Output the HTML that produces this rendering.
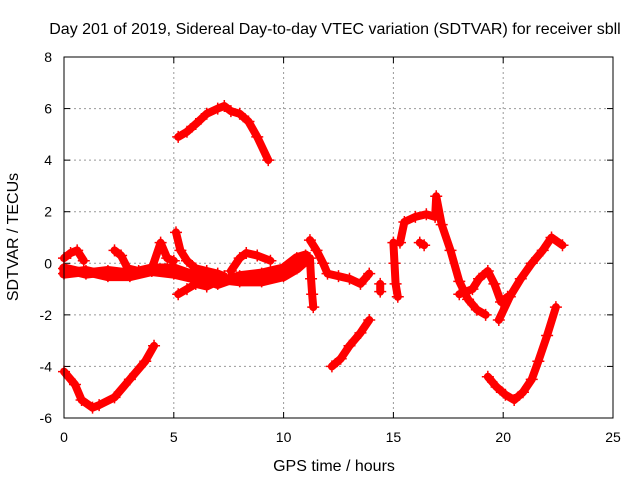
<!DOCTYPE html>
<html><head><meta charset="utf-8"><style>
body{margin:0;background:#fff}
svg{display:block;font-family:"Liberation Sans",sans-serif;font-size:14px}
.big{font-size:16px}
</style></head><body>
<svg id="chart" width="640" height="480">
<text class="big" x="335" y="34" text-anchor="middle">Day 201 of 2019, Sidereal Day-to-day VTEC variation (SDTVAR) for receiver sbll</text>
<text class="big" x="334" y="471" text-anchor="middle">GPS time / hours</text>
<text class="big" x="18" y="237" text-anchor="middle" transform="rotate(-90 18 237)">SDTVAR / TECUs</text>
<g id="grid"></g><g id="ticks"></g><g id="marks"></g>
<rect x="64" y="57" width="549" height="361" fill="none" stroke="#000" stroke-width="1"/>
</svg>
<script>
const xTicks=[0,5,10,15,20,25];
const yTicks=[-6,-4,-2,0,2,4,6,8];
const arcA=[[0,-4.2],[0.5,-4.7],[0.8,-5.3],[1.3,-5.6],[1.6,-5.5],[2.3,-5.2],[3.0,-4.5],[3.7,-3.8],[4.1,-3.2]];
const arcB=[[5.2,4.9],[5.6,5.1],[6.0,5.4],[6.5,5.8],[7.0,6.0],[7.3,6.1],[7.6,5.9],[8.0,5.8],[8.4,5.5],[8.8,4.9],[9.3,4.0]];
const arcBase=[[0,-0.4],[1,-0.3],[2,-0.5],[3,-0.5],[4,-0.3],[5,-0.4],[6,-0.6],[7,-0.6],[8,-0.7],[9,-0.7],[10,-0.5],[10.6,-0.2],[11,0.1]];
const arcBase2=[[0,-0.2],[1,-0.4],[2,-0.3],[3,-0.4],[4,-0.2],[5,-0.2],[6,-0.5],[7,-0.8],[8,-0.5],[9,-0.4],[10,-0.2],[10.6,0.2],[11,0.3]];
const arcC=[[0,0.2],[0.3,0.4],[0.6,0.5],[0.9,0.1]];
const arcD=[[2.3,0.5],[2.6,0.3],[2.9,-0.2],[3.4,-0.3],[4,-0.2],[4.4,0.8],[4.7,0.2],[5.0,0.1]];
const arcE=[[5.1,1.2],[5.3,0.5],[5.6,0.1],[6.0,-0.2],[6.5,-0.3],[7.0,-0.4],[7.3,-0.5]];
const arcF=[[5.2,-1.2],[5.6,-1.0],[6.0,-0.8],[6.5,-0.9],[7.0,-0.7],[7.5,-0.6]];
const arcG=[[7.6,-0.3],[8.0,0.2],[8.3,0.4],[8.8,0.3],[9.4,0.1]];
const arcH=[[11.2,0.9],[11.5,0.5],[11.8,0],[12,-0.4],[12.5,-0.5],[13,-0.6],[13.5,-0.8],[13.9,-0.4]];
const arcI=[[11.2,0.2],[11.25,-0.6],[11.3,-1.2],[11.35,-1.7]];
const arcJ=[[12.2,-4.0],[12.6,-3.7],[13,-3.2],[13.5,-2.7],[13.9,-2.2]];
const arcK=[[14.4,-0.8],[14.4,-1.1]];
const arcL=[[15.0,0.8],[15.05,0],[15.1,-0.8],[15.2,-1.3]];
const arcM=[[15.3,0.8],[15.5,1.6],[16,1.8],[16.5,1.9],[16.9,1.8],[16.95,2.6],[17.2,1.5],[17.6,0.5],[18,-0.7],[18.4,-1.4],[18.8,-1.8],[19.2,-2.0]];
const arcN=[[16.2,0.8],[16.4,0.7]];
const arcO=[[18.0,-1.2],[18.6,-1.0],[18.9,-0.6],[19.3,-0.3],[19.6,-0.8],[19.9,-1.5],[20.2,-1.3]];
const arcP=[[19.8,-2.2],[20.3,-1.3],[20.8,-0.6],[21.3,0],[21.8,0.5],[22.2,1.0],[22.7,0.7]];
const arcQ=[[19.3,-4.4],[19.7,-4.8],[20.1,-5.1],[20.5,-5.3],[20.9,-5.0],[21.3,-4.5],[21.6,-3.8],[22,-2.8],[22.4,-1.7]];
const arcs=[arcA,arcB,arcBase,arcBase2,arcC,arcD,arcE,arcF,arcG,arcH,arcI,arcJ,arcK,arcL,arcM,arcN,arcO,arcP,arcQ];
const X0=64,X1=613,Y0=418,Y1=57;
const sx=t=>X0+(t-0)/(25-0)*(X1-X0);
const sy=v=>Y0-(v+6)/(14)*(Y0-Y1);
const NS="http://www.w3.org/2000/svg";
const mk=(tag,attrs,parent)=>{const e=document.createElementNS(NS,tag);for(const k in attrs)e.setAttribute(k,attrs[k]);parent.appendChild(e);return e;};
const grid=document.getElementById('grid'),ticks=document.getElementById('ticks'),marks=document.getElementById('marks');
xTicks.forEach(t=>{const x=sx(t);
 if(t>0&&t<25){const g=mk('line',{x1:x,x2:x,y1:Y1,y2:Y0,stroke:'#999','stroke-dasharray':'2,3'},grid);
 
 }
 mk('line',{x1:x,x2:x,y1:Y0,y2:Y0-6,stroke:'#000'},ticks);mk('line',{x1:x,x2:x,y1:Y1,y2:Y1+6,stroke:'#000'},ticks);
 const l=mk('text',{x:x,y:Y0+24,'text-anchor':'middle'},ticks);l.textContent=t;
 
 });
yTicks.forEach(v=>{const y=sy(v);
 if(v>-6&&v<8){const g=mk('line',{x1:X0,x2:X1,y1:y,y2:y,stroke:'#999','stroke-dasharray':'2,3'},grid);
 
 }
 mk('line',{x1:X0,x2:X0+6,y1:y,y2:y,stroke:'#000'},ticks);mk('line',{x1:X1,x2:X1-6,y1:y,y2:y,stroke:'#000'},ticks);
 const l=mk('text',{x:X0-12,y:y+5,'text-anchor':'end'},ticks);l.textContent=v;
 
 });
arcs.forEach((arc,i)=>{
 const g=mk('g',{},marks);
 
 
 const w=(arc===arcBase||arcBase2===arc)?10:8;
 mk('polyline',{points:arc.map(p=>sx(p[0])+','+sy(p[1])).join(' '),fill:'none',stroke:'#f00','stroke-width':w,'stroke-linejoin':'round','stroke-linecap':'round'},g);
 arc.forEach(p=>{const x=sx(p[0]),y=sy(p[1]);
  mk('path',{d:`M${x-6},${y}H${x+6}M${x},${y-6}V${y+6}`,stroke:'#f00','stroke-width':1.5},g);});
});
</script>
</body></html>
